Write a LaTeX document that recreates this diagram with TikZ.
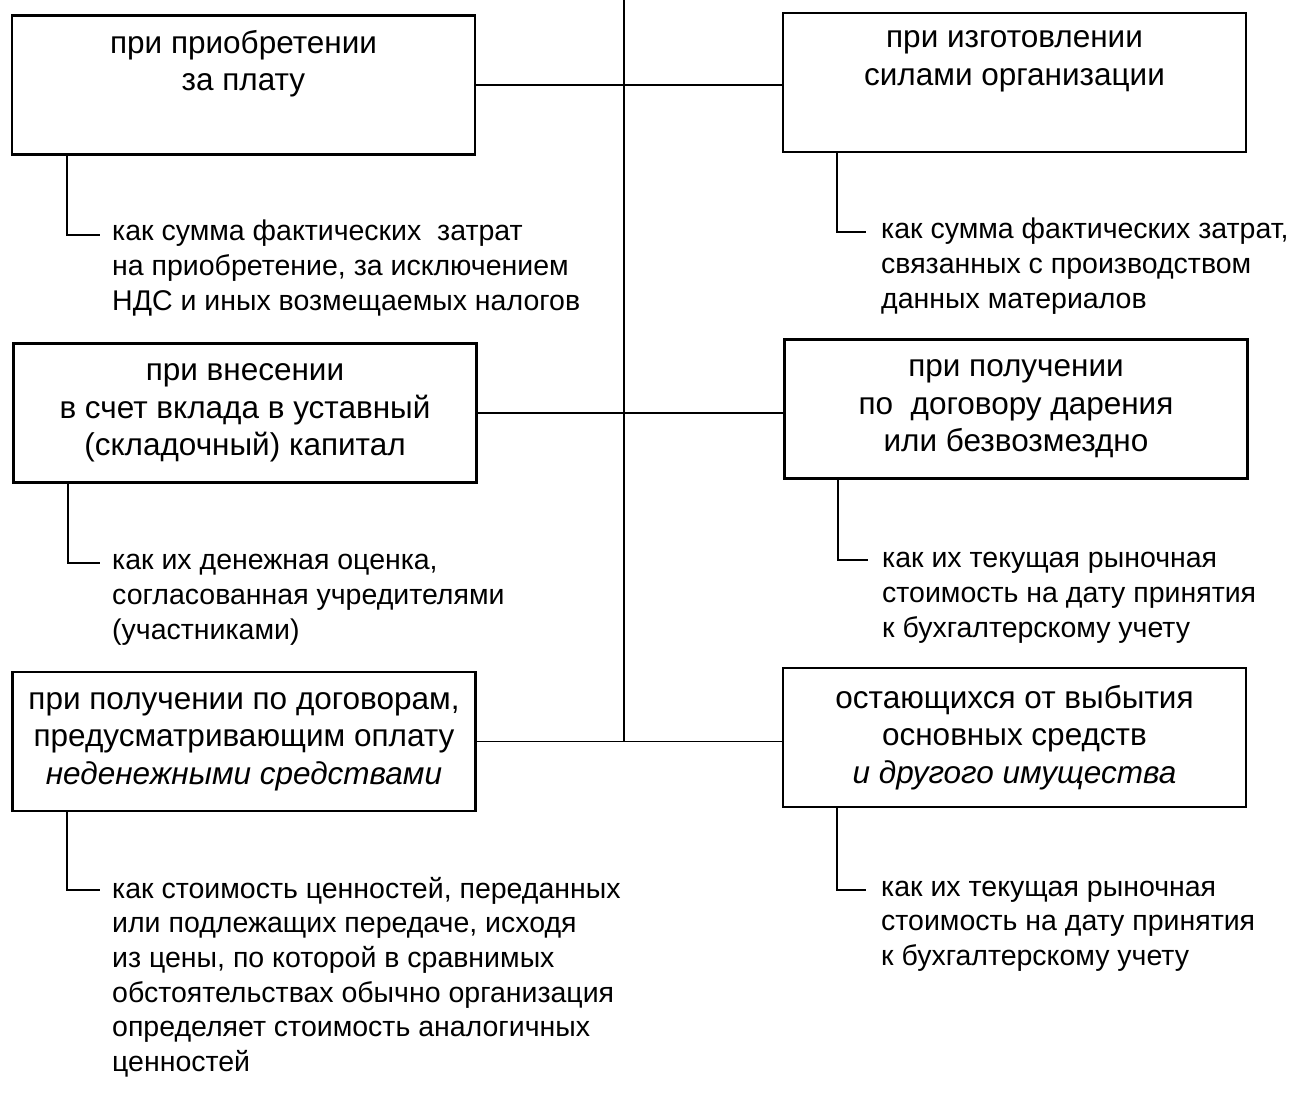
\documentclass[tikz,border=0pt]{standalone}
\usepackage{fontspec}
\setmainfont{Liberation Sans}
\begin{document}
\begin{tikzpicture}[x=1pt,y=-1pt,
  box/.style={draw,line width=2.6pt,minimum width=463pt,minimum height=139pt,inner sep=0pt,align=center,
    font=\fontsize{31.5}{37.5}\selectfont},
  sub/.style={anchor=north west,inner sep=0pt,align=left,font=\fontsize{28.5}{34.7}\selectfont},
  conn/.style={line width=1.8pt}]
\useasboundingbox (0,0) rectangle (1313,1094);
\node[box] (b1) at (243.5,85) {при приобретении\\за плату\\\strut};
\node[box] (b2) at (1014.5,82.5) {при изготовлении\\силами организации\\\strut};
\node[box] (b3) at (245,413) {при внесении\\в счет вклада в уставный\\(складочный) капитал};
\node[box] (b4) at (1016,409) {при получении\\по\ \ договору дарения\\или безвозмездно};
\node[box] (b5) at (244,741.5) {при получении по договорам,\\предусматривающим оплату\\\textit{неденежными средствами}};
\node[box] (b6) at (1014.5,737.5) {остающихся от выбытия\\основных средств\\\textit{и другого имущества}};

\node[sub] (s1) at (112,216.5) {\strut как сумма фактических\ \ затрат\\на приобретение, за исключением\\НДС и иных возмещаемых налогов};
\node[sub] (s2) at (881,214.5) {\strut как сумма фактических затрат,\\связанных с производством\\данных материалов};
\node[sub] (s3) at (112,545.5) {\strut как их денежная оценка,\\согласованная учредителями\\(участниками)};
\node[sub] (s4) at (882,543.5) {\strut как их текущая рыночная\\стоимость на дату принятия\\к бухгалтерскому учету};
\node[sub] (s5) at (112,873.5) {\strut как стоимость ценностей, переданных\\или подлежащих передаче, исходя\\из цены, по которой в сравнимых\\обстоятельствах обычно организация\\определяет стоимость аналогичных\\ценностей};
\node[sub] (s6) at (881,871.5) {\strut как их текущая рыночная\\стоимость на дату принятия\\к бухгалтерскому учету};

\coordinate (top) at (624,0);
\coordinate (c1) at (100,235);
\coordinate (c2) at (866,232);
\coordinate (c3) at (100,563);
\coordinate (c4) at (868,560);
\coordinate (c5) at (100,890);
\coordinate (c6) at (866,890);

\draw[conn] (top) -- (top |- b5.east);
\draw[conn] (b1.east) -- (b1.east -| b2.west);
\draw[conn] (b3.east) -- (b3.east -| b4.west);
\draw[conn] (b5.east) -- (b5.east -| b6.west);

\draw[conn] ([xshift=56pt]b1.south west) |- (c1);
\draw[conn] ([xshift=55pt]b2.south west) |- (c2);
\draw[conn] ([xshift=56pt]b3.south west) |- (c3);
\draw[conn] ([xshift=55pt]b4.south west) |- (c4);
\draw[conn] ([xshift=56pt]b5.south west) |- (c5);
\draw[conn] ([xshift=55pt]b6.south west) |- (c6);
\end{tikzpicture}
\end{document}
